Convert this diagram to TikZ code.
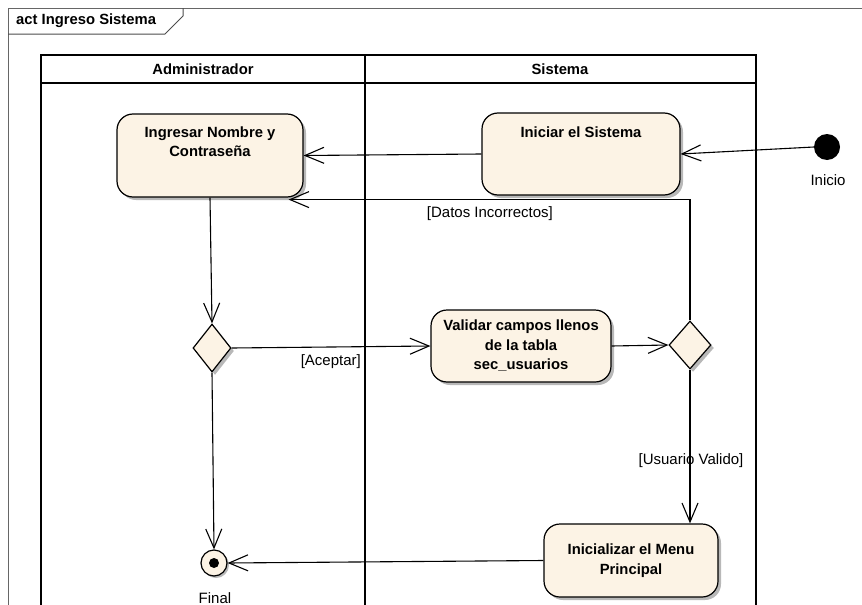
\documentclass[tikz,border=0pt]{standalone}
\usepackage{fontspec}
\setmainfont{Liberation Sans}
\usetikzlibrary{shapes.geometric,arrows.meta,positioning,calc,shadows}
\definecolor{actfill}{RGB}{252,243,229}

\begin{document}
\begin{tikzpicture}[
  x=1pt, y=-1pt,
  action/.style={
    draw=black,
    line width=1.2pt,
    rounded corners=16pt,
    fill=actfill,
    drop shadow={shadow xshift=3pt, shadow yshift=-3pt, fill=black!28, opacity=1},
    align=center,
    inner sep=0pt,
    font=\fontsize{14.8}{19.5}\selectfont\bfseries
  },
  acttext/.style={
    align=center,
    inner sep=0pt,
    font=\fontsize{14.8}{19.5}\selectfont\bfseries
  },
  decision/.style={
    diamond,
    draw=black,
    line width=1.2pt,
    fill=actfill,
    inner sep=0pt,
    drop shadow={shadow xshift=3pt, shadow yshift=-3pt, fill=black!28, opacity=1}
  },
  flow/.style={
    line width=1.1pt,
    -{Straight Barb[length=19pt, width=16pt, line width=1.1pt]}
  },
  guard/.style={
    inner sep=0pt,
    font=\fontsize{15}{17}\selectfont
  },
  lanehead/.style={
    font=\fontsize{14.8}{17}\selectfont\bfseries
  }
]

\useasboundingbox (0,0) rectangle (862,605);

% -------- Frame --------
\draw[black!60, line width=1pt] (8,605) -- (8,8) -- (862,8);
\draw[black!70, line width=1pt] (8,34) -- (165,34) -- (183,16) -- (183,8);
\node[lanehead, anchor=west, inner sep=0pt] (frametitle) at (16,21) {act Ingreso Sistema};

% -------- Swimlanes --------
\draw[line width=1.5pt] (41,605) -- (41,55) -- (756,55) -- (756,605);
\draw[line width=1.5pt] (41,83) -- (756,83);
\draw[line width=1.5pt] (365,55) -- (365,605);
\node[lanehead] (admin) at (203,69) {Administrador};
\node[lanehead] (sistema) at (560,69) {Sistema};

% -------- Actions --------
\node[action, minimum width=186, minimum height=83] (ingresar) at (210,155.5) {};
\node[acttext, anchor=north] (ingresartxt) at ([yshift=-13pt]ingresar.north)
{Ingresar Nombre y\\Contraseña};

\node[action, minimum width=198, minimum height=82] (iniciar) at (581,154) {};
\node[acttext, anchor=north] (iniciartxt) at ([yshift=-14pt]iniciar.north)
{Iniciar el Sistema};

\node[action, minimum width=180, minimum height=72] (validar) at (521,346)
{Validar campos llenos\\de la tabla\\sec\_usuarios};

\node[action, minimum width=174, minimum height=73] (inicializar) at (631,560.5)
{Inicializar el Menu\\Principal};

% -------- Control nodes --------
\node[circle, fill=black, minimum size=26, inner sep=0pt] (inicio) at (827,147) {};
\node[guard] (iniciolbl) at (828,180) {Inicio};

\node[decision, minimum width=38, minimum height=48] (dec1) at (212,348) {};
\node[decision, minimum width=42, minimum height=48] (dec2) at (690,345) {};

\node[circle, draw=black, line width=1.2pt, fill=actfill, minimum size=26, inner sep=0pt,
  drop shadow={shadow xshift=2pt, shadow yshift=-2pt, fill=black!28, opacity=1}] (final) at (214,563) {};
\fill (final.center) circle (5);
\node[guard] (finallbl) at (215,598) {Final};

% -------- Arrows --------
\draw[flow] (inicio.west) -- (iniciar.east);
\draw[flow] (iniciar.west) -- (ingresar.east);
\draw[flow] (ingresar.south) -- (dec1.north);
\draw[flow] (dec1.east) -- (validar.west);
\draw[flow] (validar.east) -- (dec2.west);
\draw[flow] (dec2.north) |- ([xshift=-15pt, yshift=-2pt]ingresar.south east);
\draw[flow] (dec2.south) -- (dec2.south |- inicializar.north);
\draw[flow] (inicializar.west) -- (final.east);
\draw[flow] (dec1.south) -- (final.north);

% -------- Guards --------
\node[guard, anchor=east] (datoslbl) at (553,214) {[Datos Incorrectos]};
\node[guard, anchor=east] (aceptarlbl) at (361,362) {[Aceptar]};
\node[guard] (validolbl) at (691,461) {[Usuario Valido]};

\end{tikzpicture}
\end{document}
